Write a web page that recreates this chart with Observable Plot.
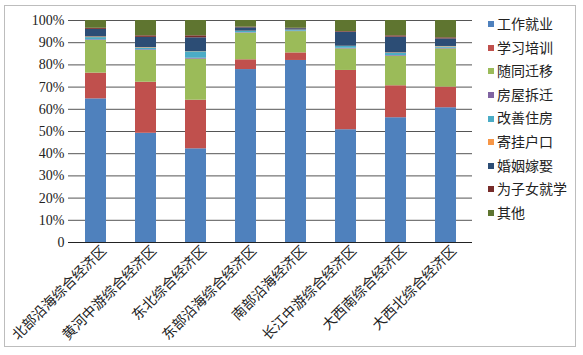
<!DOCTYPE html>
<html><head><meta charset="utf-8">
<script src="https://cdn.jsdelivr.net/npm/d3@7"></script>
<script src="https://cdn.jsdelivr.net/npm/@observablehq/plot@0.6"></script>
<style>
body{margin:0;background:#fff;}
#wrap{position:relative;width:583px;height:355px;}
#frame{position:absolute;left:4px;top:5px;width:572px;height:342px;border:1px solid #bdbdbd;box-sizing:border-box;pointer-events:none;}
#legend{position:absolute;left:488px;top:12px;font-family:"Noto Sans CJK SC",sans-serif;font-size:14px;color:#222;}
#legend div{height:23.6px;line-height:23.6px;white-space:nowrap;}
#legend span.sw{display:inline-block;width:6px;height:6px;margin-right:3px;vertical-align:middle;position:relative;top:-1px;}
</style></head>
<body><div id="wrap"><div id="chart"></div><div id="frame"></div><div id="legend"></div></div>
<script>
const regions = ["北部沿海综合经济区","黄河中游综合经济区","东北综合经济区","东部沿海综合经济区","南部沿海经济区","长江中游综合经济区","大西南综合经济区","大西北综合经济区"];
const seriesNames = ["工作就业","学习培训","随同迁移","房屋拆迁","改善住房","寄挂户口","婚姻嫁娶","为子女就学","其他"];
const colors = ["#4F81BD","#C0504D","#9BBB59","#8064A2","#4BACC6","#F79646","#2C4D75","#772C2A","#5F7530"];
const work      = [64.7, 49.2, 42.2, 77.9, 82.0, 50.8, 56.2, 60.7];
const study     = [11.6, 23.0, 21.9,  4.4,  3.4, 26.7, 14.4,  9.3];
const follow    = [14.7, 14.3, 18.5, 12.0,  9.6,  9.7, 13.3, 17.2];
const demolish  = [ 0.3,  0.3,  0.4,  0.2,  0.2,  0.3,  0.3,  0.3];
const housing   = [ 1.0,  0.8,  2.9,  0.6,  0.4,  0.8,  1.0,  0.6];
const hukou     = [ 0.3,  0.2,  0.1,  0.1,  0.1,  0.1,  0.2,  0.2];
const marriage  = [ 3.4,  4.6,  6.2,  1.5,  0.6,  6.3,  7.1,  3.4];
const children  = [ 0.5,  0.7,  0.9,  0.3,  0.2,  0.3,  0.6,  0.5];
const other     = [ 3.5,  6.9,  6.9,  3.0,  3.5,  5.0,  6.9,  7.8];
const yTicks = [0,10,20,30,40,50,60,70,80,90,100];

const seriesValues = [work, study, follow, demolish, housing, hukou, marriage, children, other];
const data = [];
regions.forEach((r, i) => {
  seriesNames.forEach((s, j) => data.push({region: r, series: s, value: seriesValues[j][i]}));
});

const chart = Plot.plot({
  width: 583, height: 355,
  marginLeft: 68, marginRight: 111, marginTop: 20, marginBottom: 113,
  x: {domain: regions, padding: 0.58, paddingOuter: 0.29, align: 0.5},
  y: {domain: [0, 100]},
  color: {domain: seriesNames, range: colors},
  style: {background: "transparent"},
  marks: [
    Plot.ruleY(yTicks.filter(d => d > 0), {y: d => d, stroke: "#555", strokeWidth: 1}),
    Plot.barY(data, {x: "region", y: "value", fill: "series", order: seriesNames}),
    Plot.ruleY([0], {stroke: "#222", strokeWidth: 1.2}),
    Plot.axisY({ticks: yTicks, tickSize: 0, tickPadding: 4, tickFormat: d => d === 0 ? "0" : d + "%",
      fontSize: 14, fill: "#222", label: null}),
    Plot.axisX({tickSize: 0, tickRotate: -45, tickPadding: 6, dx: 8,
      fontSize: 14, fill: "#222", label: null})
  ]
});
document.getElementById("chart").appendChild(chart);
d3.select(chart).selectAll("text").each(function() {
  const t = this.textContent;
  if (/^\d+%?$/.test(t)) this.style.fontFamily = '"Liberation Serif", "Times New Roman", serif';
  else this.style.fontFamily = '"Noto Sans CJK SC", sans-serif';
});

const leg = document.getElementById("legend");
seriesNames.forEach((s, j) => {
  const d = document.createElement("div");
  d.innerHTML = `<span class="sw" style="background:${colors[j]}"></span>${s}`;
  leg.appendChild(d);
});
</script></body></html>
